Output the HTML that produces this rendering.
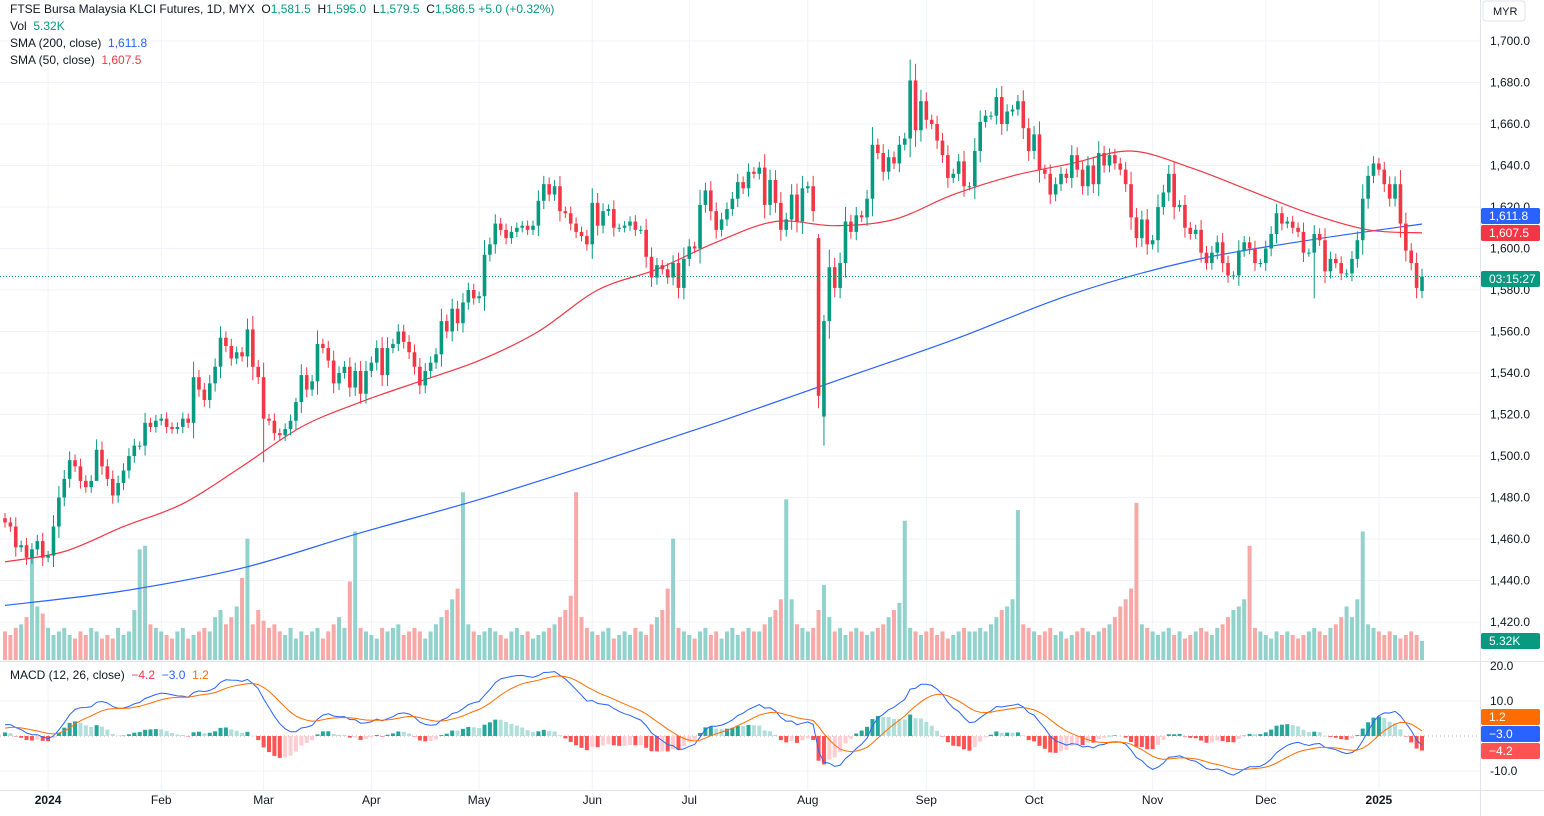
<!DOCTYPE html>
<html><head><meta charset="utf-8">
<style>
html,body{margin:0;padding:0;background:#fff;}
svg{display:block;font-family:"Liberation Sans",sans-serif;}
</style></head>
<body>
<svg id="chart" width="1544" height="816" viewBox="0 0 1544 816"></svg>
<script>
const closes=[1468,1466,1456,1457,1451,1455,1459,1451,1452,1466,
1480,1489,1498,1495,1488,1485,1488,1503,1495,1489,
1481,1487,1493,1500,1505,1505,1516,1514,1517,1518,
1514,1513,1514,1518,1516,1538,1532,1527,1535,1543,
1557,1553,1547,1550,1548,1561,1543,1538,1518,1517,
1511,1510,1513,1517,1526,1539,1532,1536,1554,1552,
1546,1535,1540,1543,1533,1541,1530,1541,1545,1552,
1539,1552,1554,1560,1555,1550,
1543,1534,1541,1545,1549,1565,1560,1571,1564,1574,
1580,1576,1577,1597,1602,1612,1609,1605,1608,1610,
1611,1609,1611,1623,1631,1626,1630,1618,1617,1612,
1608,1606,1602,1622,1611,1618,1619,1610,1610,1611,
1613,1609,1609,1596,1586,1592,1590,1586,1593,1581,
1595,1601,1600,1621,1628,1618,1609,1614,1619,1624,
1632,1629,1637,1636,1639,1621,1633,1622,1609,1614,
1626,1613,1629,1630,1618,1529,1565,1591,1581,1593,
1613,1608,1616,1615,1624,1650,
1646,1637,1644,1641,1650,1653,1681,1657,1671,1662,
1660,1652,1645,1634,1636,1642,1630,1630,1647,1661,
1664,1664,1673,1660,1666,1667,1671,1658,1647,1655,
1638,1636,1626,1631,1636,1634,1645,1638,1630,1640,
1631,1646,1640,1645,1641,1638,1631,1615,1605,1614,
1602,1604,1620,1627,1636,1620,1621,1610,1607,1609,
1598,1593,1598,1603,1593,1587,1587,1599,1603,1600,
1593,1593,1600,1607,1617,1612,1613,1610,1608,1598,
1598,1607,1604,1589,1595,1593,1588,1588,1595,1604,
1624,1635,1641,1638,1631,1624,1631,1612,1599,1593,
1581,1586.5];
const firstOpen=1470;
const openOverrides={151:1605,152:1519,263:1579.5};
const highOverrides={151:1607,152:1568,168:1691,54:1528,48:1545,17:1508};
const lowOverrides={151:1523,152:1505,48:1497,17:1495,263:1576,243:1576};
const vols=[8,7,9,10,12,31,15,13,9,7,
8,9,7,6,8,7,9,8,6,7,
6,9,7,8,14,31,32,10,9,8,
7,6,8,9,6,7,8,9,8,12,
14,10,12,15,23,34,10,14,11,9,
10,8,7,9,6,8,7,8,9,6,
8,10,12,9,22,36,9,8,7,6,
9,8,9,10,7,8,9,8,6,8,
10,12,14,17,20,47,10,8,7,8,
9,8,7,6,8,9,7,8,6,7,
8,9,10,12,14,18,47,12,9,8,
7,8,9,6,7,8,7,9,8,7,
10,12,14,20,34,9,8,7,6,8,
9,7,8,6,8,9,7,8,9,8,
8,10,12,14,17,45,17,10,9,8,
9,14,21,12,8,9,7,8,9,8,
7,8,9,10,12,14,16,39,9,8,
7,8,9,7,8,6,7,8,9,8,
8,9,8,10,12,14,15,17,42,10,
9,8,7,8,9,7,8,6,7,8,
9,8,7,8,9,10,12,15,17,20,
44,10,9,8,7,8,9,7,8,6,
7,8,9,8,7,9,10,12,14,15,
17,32,9,8,7,6,8,7,8,7,
6,7,8,9,8,7,9,10,12,15,
12,17,36,10,9,8,7,8,7,6,
7,8,7,5.32];
const sma200Idx=[0,22,44,66,88,110,132,154,176,198,220,242,263];
const sma200Val=[1428,1435,1446,1463,1479,1497,1516,1536,1556,1578,1594,1604,1611.8];
const sma50Idx=[0,11,22,33,44,55,66,77,88,99,110,121,132,143,154,165,176,187,198,209,220,231,242,253,263];
const sma50Val=[1449,1454,1466,1477,1495,1514,1526,1536,1546,1560,1580,1590,1603,1613,1611,1614,1626,1635,1641,1647,1639,1628,1617,1609,1607.5];
const priceTicks=[1700,1680,1660,1640,1620,1600,1580,1560,1540,1520,1500,1480,1460,1440,1420];
const macdTicks=[20,10,-10];
const monthLabels=["2024","Feb","Mar","Apr","May","Jun","Jul","Aug","Sep","Oct","Nov","Dec","2025"];
const monthIdx=[8,29,48,68,88,109,127,149,171,191,213,234,255];

const svg=document.getElementById('chart');
const NS='http://www.w3.org/2000/svg';
function mk(tag,attrs,parent){const e=document.createElementNS(NS,tag);for(const k in attrs)e.setAttribute(k,attrs[k]);(parent||svg).appendChild(e);return e;}
const N=closes.length;
const X0=5,X1=1422;
const xOf=i=>X0+i*(X1-X0)/(N-1);
const yP=p=>41+(1700-p)*2.075;
const yV=v=>660-v*3.57;
const yM=m=>736-m*3.5;
const UP='#089981',DN='#f23645';

const grid=mk('g',{});


priceTicks.forEach(p=>mk('line',{x1:0,x2:1480,y1:yP(p),y2:yP(p),stroke:'#f0f3fa'},grid));
monthIdx.forEach(i=>mk('line',{x1:xOf(i),x2:xOf(i),y1:0,y2:790,stroke:'#f0f3fa'},grid));
[10,-10].forEach(m=>mk('line',{x1:0,x2:1480,y1:yM(m),y2:yM(m),stroke:'#f0f3fa'},grid));

const vg=mk('g',{});


const opens=[];
for(let i=0;i<N;i++){opens.push(openOverrides[i]!==undefined?openOverrides[i]:(i===0?firstOpen:closes[i-1]));}
for(let i=0;i<N;i++){
  const up=closes[i]>=opens[i];
  const r=mk('rect',{x:xOf(i)-2,y:yV(vols[i]),width:4,height:660-yV(vols[i]),fill:up?'#92d2cc':'#f7a9a7'},vg);
  
  
}

function lineFrom(idx,val,color,name){
  const P=idx.map((i,k)=>[xOf(i),yP(val[k])]);
  let d='M'+P[0][0].toFixed(1)+','+P[0][1].toFixed(1);
  for(let k=0;k<P.length-1;k++){
    const p0=P[Math.max(0,k-1)],p1=P[k],p2=P[k+1],p3=P[Math.min(P.length-1,k+2)];
    const c1=[p1[0]+(p2[0]-p0[0])/6,p1[1]+(p2[1]-p0[1])/6];
    const c2=[p2[0]-(p3[0]-p1[0])/6,p2[1]-(p3[1]-p1[1])/6];
    d+=' C'+c1.map(v=>v.toFixed(1)).join(',')+' '+c2.map(v=>v.toFixed(1)).join(',')+' '+p2.map(v=>v.toFixed(1)).join(',');
  }
  const l=mk('path',{d:d,fill:'none',stroke:color,'stroke-width':1.2});
  
  
}
lineFrom(sma200Idx,sma200Val,'#2962ff','sma-200-line');
lineFrom(sma50Idx,sma50Val,'#f23645','sma-50-line');

const cg=mk('g',{});


for(let i=0;i<N;i++){
  const o=opens[i],c=closes[i];
  const up=c>=o;const col=up?UP:DN;
  const hi=highOverrides[i]!==undefined?highOverrides[i]:Math.max(o,c)+2+Math.abs(c-o)*0.25;
  const lo=lowOverrides[i]!==undefined?lowOverrides[i]:Math.min(o,c)-2-Math.abs(c-o)*0.25;
  const x=xOf(i);
  const w=mk('line',{x1:x,x2:x,y1:yP(hi),y2:yP(lo),stroke:col,'stroke-width':1},cg);
  
  
  const yt=yP(Math.max(o,c)),yb=yP(Math.min(o,c));
  const b=mk('rect',{x:x-1.8,y:yt,width:3.6,height:Math.max(1,yb-yt),fill:col},cg);
  
  
}
const lp=mk('line',{x1:0,x2:1480,y1:yP(closes[N-1]),y2:yP(closes[N-1]),stroke:UP,'stroke-dasharray':'1 2'});



mk('line',{x1:0,x2:1544,y1:661.5,y2:661.5,stroke:'#e0e3eb'});
mk('line',{x1:1480.5,x2:1480.5,y1:0,y2:816,stroke:'#e0e3eb'});
mk('line',{x1:0,x2:1544,y1:790.5,y2:790.5,stroke:'#e0e3eb'});

function ema(arr,n,seed){const k=2/(n+1);const out=[];let e=seed;arr.forEach(v=>{e=v*k+e*(1-k);out.push(e);});return out;}
const e12=ema(closes,12,closes[0]-6),e26=ema(closes,26,closes[0]-9);
const macd=e12.map((v,i)=>v-e26[i]);
const sig=ema(macd,9,2);
const hist=macd.map((v,i)=>v-sig[i]);
mk('line',{x1:0,x2:1480,y1:736,y2:736,stroke:'#787b86','stroke-dasharray':'1 3','stroke-opacity':0.6});
const hg=mk('g',{});


for(let i=0;i<N;i++){
  const h=hist[i],p=i>0?hist[i-1]:0;
  const col=h>=0?(h>=p?'#26a69a':'#b2dfdb'):(h<p?'#ff5252':'#ffcdd2');
  const y1=yM(Math.max(h,0)),y2=yM(Math.min(h,0));
  const r=mk('rect',{x:xOf(i)-2,y:y1,width:4,height:Math.max(0.5,y2-y1),fill:col},hg);
  
  
}
const ml=mk('polyline',{points:macd.map((v,i)=>xOf(i).toFixed(1)+','+yM(v).toFixed(1)).join(' '),fill:'none',stroke:'#2962ff','stroke-width':1});


const sl=mk('polyline',{points:sig.map((v,i)=>xOf(i).toFixed(1)+','+yM(v).toFixed(1)).join(' '),fill:'none',stroke:'#ff6d00','stroke-width':1});



priceTicks.forEach(p=>{
  const t=mk('text',{x:1490,y:yP(p)+4,'font-size':12,fill:'#131722'});
  t.textContent=p.toLocaleString('en-US',{minimumFractionDigits:1});
  
  
});
macdTicks.forEach(m=>{
  const t=mk('text',{x:1490,y:yM(m)+4,'font-size':12,fill:'#131722'});
  t.textContent=m.toFixed(1);
  
  
});
monthLabels.forEach((m,k)=>{
  const t=mk('text',{x:xOf(monthIdx[k]),y:804,'font-size':12,fill:'#131722','text-anchor':'middle','font-weight':m.length===4?'bold':'normal'});
  t.textContent=m;
  
  
});

function tag(y,bg,txt,name,fg){
  const g=mk('g',{});
  
  
  mk('rect',{x:1481,y:y-8,width:59,height:16,fill:bg,rx:2},g);
  const t=mk('text',{x:1489,y:y+4,'font-size':12,fill:fg||'#fff'},g);t.textContent=txt;
}
tag(216,'#2962ff','1,611.8','sma-200-tag');
tag(233,'#f23645','1,607.5','sma-50-tag');
tag(279,'#089981','03:15:27','countdown-tag');
tag(641,'#089981','5.32K','volume-tag');
tag(717,'#ff6d00','1.2','macd-signal-tag');
tag(734,'#2962ff','−3.0','macd-tag');
tag(751,'#ff5252','−4.2','macd-hist-tag');

const cur=mk('g',{});


mk('rect',{x:1483,y:1,width:42,height:20,fill:'#fff',stroke:'#e0e3eb',rx:3},cur);
const ct=mk('text',{x:1493,y:15,'font-size':11,fill:'#131722'},cur);ct.textContent='MYR';
</script>
<div style="position:absolute;left:10px;top:1px;font:12px 'Liberation Sans',sans-serif;color:#131722;line-height:17px;">
<div>FTSE Bursa Malaysia KLCI Futures, 1D, MYX &nbsp;O<span style="color:#089981">1,581.5</span> &nbsp;H<span style="color:#089981">1,595.0</span> &nbsp;L<span style="color:#089981">1,579.5</span> &nbsp;C<span style="color:#089981">1,586.5</span> <span style="color:#089981">+5.0 (+0.32%)</span></div>
<div>Vol &nbsp;<span style="color:#089981">5.32K</span></div>
<div>SMA (200, close) &nbsp;<span style="color:#2962ff">1,611.8</span></div>
<div>SMA (50, close) &nbsp;<span style="color:#f23645">1,607.5</span></div>
</div>
<div style="position:absolute;left:10px;top:668px;font:12px 'Liberation Sans',sans-serif;color:#131722;">MACD (12, 26, close) &nbsp;<span style="color:#f23645">−4.2</span> &nbsp;<span style="color:#2962ff">−3.0</span> &nbsp;<span style="color:#ff6d00">1.2</span></div>
</body></html>
